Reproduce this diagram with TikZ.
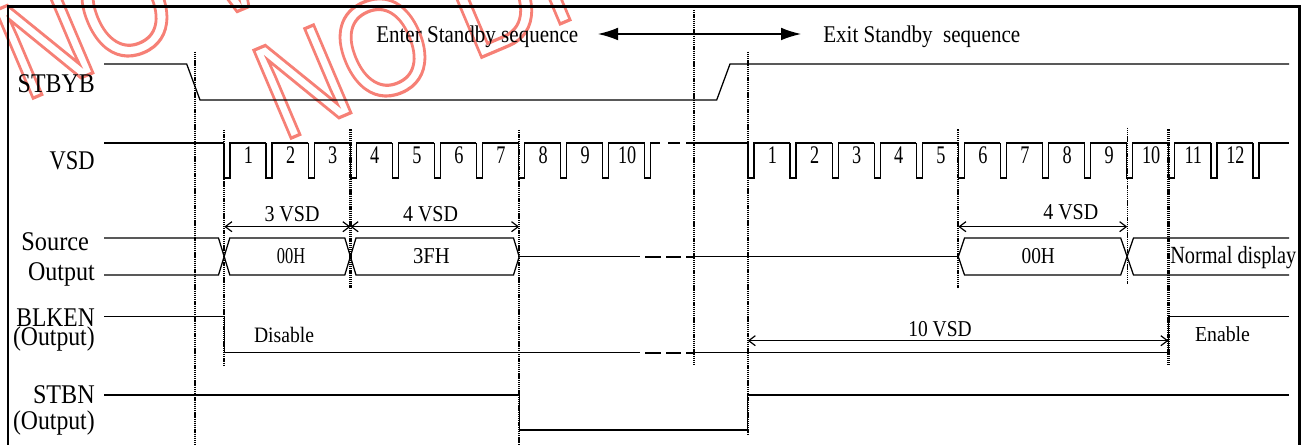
\documentclass[tikz,border=0pt]{standalone}
\usepackage{fontspec}
\usepackage{graphicx}
\setmainfont{Liberation Serif}
\newfontfamily\wmfont{Liberation Sans}
\usetikzlibrary{arrows.meta}
\newdimen\mypx \mypx=0.75pt
\newcommand\fitw[2]{\resizebox{#1\mypx}{\height}{#2}}
\newcommand\outl[1]{\special{pdf:literal direct 1 Tr 2.4 w}#1\special{pdf:literal direct 0 Tr}}
\definecolor{wm}{RGB}{246,128,118}
\tikzset{
  sig/.style={line width=0.95pt, line join=miter},
  dsh/.style={line width=1.7pt},
  dotv/.style={line width=1.6pt, dash pattern=on 1pt off 0.6pt},
  dotthin/.style={line width=0.9pt, dash pattern=on 1pt off 0.6pt},
  lbl/.style={font=\fontsize{20.25}{22}\selectfont, inner sep=0pt, anchor=base east},
  top/.style={font=\fontsize{18}{20}\selectfont, inner sep=0pt, anchor=base west},
  sm/.style={font=\fontsize{17}{19}\selectfont, inner sep=0pt, anchor=base},
  num/.style={font=\fontsize{19}{21}\selectfont, inner sep=0pt, anchor=base},
  dim/.style={line width=0.9pt, {Straight Barb[length=5pt,width=7.5pt]}-{Straight Barb[length=5pt,width=7.5pt]}},
  big/.style={line width=0.95pt, {Latex[length=15pt,width=9.5pt]}-{Latex[length=15pt,width=9.5pt]}},
  wmk/.style={wm, font=\wmfont\fontsize{104}{106}\selectfont, rotate=23, anchor=base west, inner sep=0pt},
}
\begin{document}
\begin{tikzpicture}[x=0.75pt,y=-0.75pt]
\useasboundingbox (0,0) rectangle (1304,445);
% watermark
\begin{scope}
\clip (0,0) rectangle (1304,445);
\node[wmk] (wm1) at (24,102) {\scalebox{0.84}[1]{\outl{NO W}}};
\node[wmk] (wm2) at (282,142) {\scalebox{0.84}[1]{\outl{NO DI}}};
\end{scope}
% frame
\draw[line width=2pt] (8,445) -- (8,6.5) -- (1299.5,6.5) -- (1299.5,445);
% top sequence labels
\node[top] (enter) at (376,42.7) {\fitw{202}{Enter Standby sequence}};
\node[top] (exit) at (823,42.7) {\fitw{197}{Exit Standby~~sequence}};
\coordinate (arL) at (598,34);
\coordinate (arR) at (801,34);
\draw[big] (arL) -- (arR);
% left labels
\node[lbl] (lstbyb) at (95,92.5) {\fitw{77}{STBYB}};
\node[lbl] (lvsd) at (95,170) {\fitw{45}{VSD}};
\node[lbl] (lsrc) at (89.3,250.7) {\fitw{67.6}{Source}};
\node[lbl] (lout) at (95,280.7) {\fitw{66.7}{Output}};
\node[lbl] (lblk) at (95,326.7) {\fitw{78.3}{BLKEN}};
\node[lbl] (lblko) at (95,345.5) {\fitw{81.7}{(Output)}};
\node[lbl] (lstbn) at (95,403.3) {\fitw{61.7}{STBN}};
\node[lbl] (lstbno) at (95,429.3) {\fitw{81.7}{(Output)}};
% dotted verticals
\draw[dotv] (194.7,51.7) -- (194.7,445);
\draw[dotv] (224.3,130) -- (224.3,365);
\draw[dotv] (350.5,129.5) -- (350.5,287.7);
\draw[dotv] (519.2,130) -- (519.2,445);
\draw[dotv] (693.7,10) -- (693.7,365);
\draw[dotv] (747.7,51.7) -- (747.7,435);
\draw[dotv] (958.3,129.5) -- (958.3,287.7);
\draw[dotthin] (1127.3,127.7) -- (1127.3,284);
\draw[dotv] (1168.5,129.5) -- (1168.5,366);
% STBYB
\draw[sig] (104,64) -- (186.7,64) -- (200,100) -- (716.7,100) -- (730,64) -- (1289,64);
% VSD
\def\P{42.08}
\draw[sig] (104,143) -- (224,143);
\foreach \k in {0,...,9} {
  \pgfmathsetmacro\xa{224+\P*\k}
  \pgfmathsetmacro\xb{224+\P*(\k+1)}
  \draw[sig] (\xa,143) -- (\xa,178) -- (\xa+6,178) -- (\xa+6,143) -- (\xb,143);
  \node[num] (vl\k) at (\xa+24.5,164) {\scalebox{0.72}[1]{\the\numexpr\k+1\relax}};
}
\draw[sig] (644.8,143) -- (644.8,178) -- (650.8,178) -- (650.8,143) -- (660,143);
\draw[dsh] (668,143) -- (680,143);
\draw[dsh] (686,143) -- (693,143);
\draw[sig] (693,143) -- (748,143);
\foreach \k in {0,...,11} {
  \pgfmathsetmacro\xa{748+\P*\k}
  \pgfmathsetmacro\xb{748+\P*(\k+1)}
  \draw[sig] (\xa,143) -- (\xa,178) -- (\xa+6,178) -- (\xa+6,143) -- (\xb,143);
  \node[num] (vr\k) at (\xa+24.5,164) {\scalebox{0.72}[1]{\the\numexpr\k+1\relax}};
}
\draw[sig] (1253,143) -- (1253,178) -- (1259,178) -- (1259,143) -- (1289,143);
% Source output
\draw[sig] (104,238) -- (218.5,238) -- (229.8,275) -- (344.8,275) -- (356,238) -- (513.5,238) -- (519.2,256.7) -- (513.5,275) -- (356,275) -- (344.8,238) -- (229.8,238) -- (218.5,275) -- (104,275);
\draw[sig] (519.2,256.7) -- (640,256.7);
\draw[dsh] (645,256.7) -- (661,256.7);
\draw[dsh] (666,256.7) -- (681,256.7);
\draw[dsh] (686,256.7) -- (693,256.7);
\draw[sig] (693,256.7) -- (958.3,256.7);
\draw[sig] (958.3,256.7) -- (964.5,238) -- (1120.7,238) -- (1133.5,275) -- (1289,275);
\draw[sig] (958.3,256.7) -- (964.5,275) -- (1120.7,275) -- (1133.5,238) -- (1289,238);
\node[sm] (d00a) at (291,264) {\fitw{28.3}{00H}};
\node[sm] (d3f) at (431.5,264) {\fitw{36.7}{3FH}};
\node[sm] (d00b) at (1038.3,264) {\fitw{33.3}{00H}};
\node[sm, anchor=base west, font=\fontsize{18.5}{20}\selectfont] (norm) at (1170,263.3) {\fitw{126}{Normal display}};
% dimension arrows
\coordinate (m1) at (224.3,226.7);
\coordinate (m2) at (350.5,226.7);
\coordinate (m3) at (519.2,226.7);
\coordinate (m4) at (958.3,226.7);
\coordinate (m5) at (1127.3,226.7);
\coordinate (m6) at (747.7,340.7);
\coordinate (m7) at (1168.5,340.7);
\draw[dim] (m1) -- (m2);
\draw[dim] (m2) -- (m3);
\draw[dim] (m4) -- (m5);
\draw[dim] (m6) -- (m7);
\node[sm] (t3vsd) at (292,221.7) {\fitw{55}{3 VSD}};
\node[sm] (t4vsd) at (430.5,222) {\fitw{55}{4 VSD}};
\node[sm] (t4vsdr) at (1070.8,220) {\fitw{55}{4 VSD}};
\node[sm] (t10vsd) at (940,336.7) {\fitw{63.3}{10 VSD}};
% BLKEN
\draw[sig] (104,316.7) -- (224.3,316.7) -- (224.3,352.7) -- (640,352.7);
\draw[dsh] (645,352.7) -- (661,352.7);
\draw[dsh] (666,352.7) -- (681,352.7);
\draw[dsh] (686,352.7) -- (693,352.7);
\draw[sig] (693,352.7) -- (1168.5,352.7) -- (1168.5,316.7) -- (1289,316.7);
\node[sm, font=\fontsize{16.5}{18}\selectfont] (dis) at (284,342.7) {\fitw{60}{Disable}};
\node[sm, font=\fontsize{16}{18}\selectfont] (ena) at (1222.5,341.7) {\fitw{55}{Enable}};
% STBN
\draw[sig] (104,395) -- (519.2,395) -- (519.2,430) -- (747.7,430) -- (747.7,395) -- (1289,395);
\end{tikzpicture}
\end{document}
